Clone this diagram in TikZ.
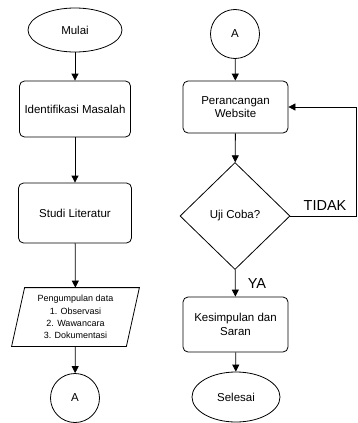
\documentclass[tikz,border=0pt]{standalone}
\usepackage{fontspec}
\setmainfont{Liberation Sans}
\usetikzlibrary{shapes.geometric,arrows.meta}

\begin{document}
\begin{tikzpicture}[x=1pt,y=-1pt,
  every node/.style={font=\fontsize{11.5}{13.5}\selectfont},
  proses/.style={draw,rounded corners=5pt,align=center,inner sep=0pt},
  terminal/.style={draw,ellipse,inner sep=0pt},
  konektor/.style={draw,circle,inner sep=0pt,minimum size=49pt},
  panah/.style={-{Triangle[length=7pt,width=7pt]},line width=0.8pt},
  label/.style={font=\fontsize{14.5}{16}\selectfont,inner sep=0pt},
  line width=0.8pt]
  \useasboundingbox (0,0) rectangle (357,423);

  % kolom kiri
  \node[terminal,minimum width=94pt,minimum height=44pt] (mulai) at (75,30) {Mulai};
  \node[proses,minimum width=111pt,minimum height=56pt] (identifikasi) at (75,109) {Identifikasi Masalah};
  \node[proses,minimum width=113pt,minimum height=60pt] (studi) at (75,213) {Studi Literatur};
  \node[inner sep=0pt,minimum width=114pt,minimum height=58pt,align=center,
        font=\fontsize{9}{12.3}\selectfont] (data) at (75.5,317)
        {Pengumpulan data\\1. Observasi\\2. Wawancara\\3. Dokumentasi};
  \draw ([xshift=6.5pt]data.north west) -- ([xshift=6.5pt]data.north east)
     -- ([xshift=-6.5pt]data.south east) -- ([xshift=-6.5pt]data.south west) -- cycle;
  \node[konektor] (a1) at (75,398) {A};

  \draw[panah] (mulai) -- (identifikasi);
  \draw[panah] (identifikasi) -- (studi);
  \draw[panah] (studi) -- (data);
  \draw[panah] (data) -- (a1);

  % kolom kanan
  \node[konektor] (a2) at (235,34) {A};
  \node[proses,minimum width=105pt,minimum height=52pt] (website) at (235.5,107) {Perancangan\\Website};
  \node[draw,diamond,inner sep=0pt,minimum width=110pt,minimum height=107pt] (uji) at (235,216) {Uji Coba?};
  \node[proses,minimum width=105pt,minimum height=55pt] (kesimpulan) at (235.5,324.5) {Kesimpulan dan\\Saran};
  \node[terminal,minimum width=88pt,minimum height=50pt] (selesai) at (236,397) {Selesai};
  \coordinate (balik) at (356,216);

  \draw[panah] (a2) -- (website);
  \draw[panah] (website) -- (uji);
  \draw[panah] (uji) -- (kesimpulan);
  \draw[panah] (kesimpulan) -- (selesai);
  \draw[panah] (uji.east) -- (balik) |- (website.east);

  \node[label] (tidak) at (325,206) {TIDAK};
  \node[label] (ya) at (257,284) {YA};
\end{tikzpicture}
\end{document}
